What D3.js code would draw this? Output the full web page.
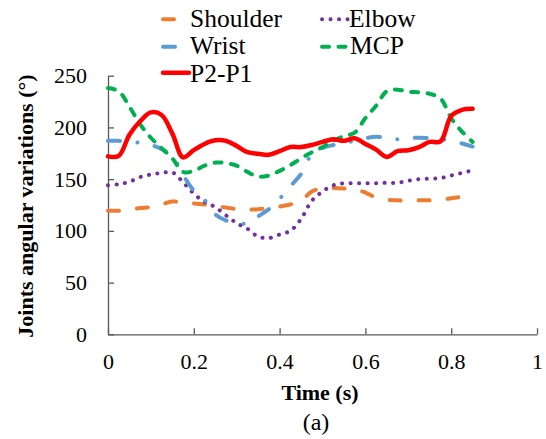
<!DOCTYPE html>
<html>

<head>
    <meta charset="utf-8">
    <title>Joints angular variations</title>
    <script src="https://d3js.org/d3.v7.min.js"></script>
    <style>
        body { margin: 0; background: #fff; }
        text { font-family: "Liberation Serif", "Times New Roman", serif; fill: #000; }
    </style>
</head>

<body>
    <script type="text/javascript">
        // time samples (s), every 0.025 s
        let time = [0, 0.025, 0.05, 0.075, 0.1, 0.125, 0.15, 0.175, 0.2, 0.225, 0.25, 0.275,
            0.3, 0.325, 0.35, 0.375, 0.4, 0.425, 0.45, 0.475, 0.5, 0.525, 0.55, 0.575,
            0.6, 0.625, 0.65, 0.675, 0.7, 0.725, 0.75, 0.775, 0.8, 0.825, 0.85];

        // joint angles (deg)
        let shoulder = [119.5, 119.5, 120.5, 122, 123, 125.5, 128.5, 127, 126.5, 125.5, 124, 122.5,
            121, 120.5, 121, 122, 123.5, 125.5, 129, 138, 141, 141.5, 141, 140,
            137, 132, 130, 129.5, 129, 129.5, 129.5, 130, 131.5, 133, 134];
        let elbow = [144, 145, 147.5, 152, 154.5, 156, 156.5, 147, 136, 128, 123, 115,
            107.5, 102, 94.5, 93, 96.5, 100, 111.5, 129, 138, 144, 146, 146,
            146, 146, 146.5, 146.5, 148.5, 150, 150.5, 151, 153.5, 156, 158.5];
        let wrist = [187, 187, 186.5, 185, 183, 179, 172, 154, 139, 130, 116, 110,
            107, 107.5, 114, 121, 131, 143, 155, 174, 180, 183, 185, 187,
            189.5, 191, 189.5, 188.5, 189.5, 190, 189.5, 188.5, 187, 184.5, 181.5];
        let mcp = [238, 235, 220, 203, 190, 180, 170, 157, 158, 163, 166, 165.5,
            163, 157, 152.5, 153.5, 158, 163.5, 170, 176, 181, 187, 191.5, 195,
            209, 221, 235, 236.5, 234.5, 234, 232.5, 228, 209, 196, 186];
        let p2p1 = [172, 172.5, 193, 206, 214.5, 212, 194, 171, 178, 184, 187.5, 187,
            182, 176, 174.5, 173.5, 177, 181, 181, 183, 186, 188.5, 187, 189.5,
            184, 178.5, 171.5, 177, 178, 181, 186, 186.5, 211, 217, 218];

        let seriesNames = ["Shoulder", "Elbow", "Wrist", "MCP", "P2-P1"];
        let seriesValues = [shoulder, elbow, wrist, mcp, p2p1];

        let xTicks = [0, 0.2, 0.4, 0.6, 0.8, 1];
        let xTickLabels = ["0", "0.2", "0.4", "0.6", "0.8", "1"];
        let yTicks = [0, 50, 100, 150, 200, 250];

        function draw() {
            let width = 546,
                height = 439;

            let styles = {
                "Shoulder": { color: "#ED7D31", w: 4, dash: "11,18" },
                "Elbow": { color: "#7030A0", w: 4, dash: "0.1,8.4" },
                "Wrist": { color: "#5B9BD5", w: 4, dash: "12,17.5,0.1,17.5" },
                "MCP": { color: "#00B050", w: 4, dash: "7,9.5" },
                "P2-P1": { color: "#FF0000", w: 4.5, dash: null }
            };

            let svg = d3.select("body").append("svg")
                .attr("width", width)
                .attr("height", height);

            let x = d3.scaleLinear().domain([0, 1]).range([108, 537]);
            let y = d3.scaleLinear().domain([0, 250]).range([334.3, 75.7]);

            // axes, ticks point inwards
            let xAxis = svg.append("g")
                .attr("transform", "translate(0," + y(0) + ")")
                .call(d3.axisBottom(x)
                    .tickValues(xTicks)
                    .tickFormat((d, i) => xTickLabels[i])
                    .tickSizeInner(-6)
                    .tickSizeOuter(0)
                    .tickPadding(19));

            let yAxis = svg.append("g")
                .attr("transform", "translate(" + x(0) + ",0)")
                .call(d3.axisLeft(y)
                    .tickValues(yTicks)
                    .tickSizeInner(-6)
                    .tickSizeOuter(0)
                    .tickPadding(21));

            [xAxis, yAxis].forEach(g => {
                g.select(".domain").attr("stroke", "#595959").attr("stroke-width", 1.3);
                g.selectAll(".tick line").attr("stroke", "#595959").attr("stroke-width", 1.3);
                g.selectAll(".tick text")
                    .style("font-family", "'Liberation Serif', serif")
                    .style("font-size", "22px")
                    .attr("fill", "#000");
            });

            // lines
            let line = d3.line()
                .x((d, i) => x(time[i]))
                .y(d => y(d))
                .curve(d3.curveCatmullRom.alpha(0.5));

            seriesNames.forEach((name, k) => {
                let s = styles[name];
                svg.append("path")
                    .attr("d", line(seriesValues[k]))
                    .attr("fill", "none")
                    .attr("stroke", s.color)
                    .attr("stroke-width", s.w)
                    .attr("stroke-linecap", "round")
                    .attr("stroke-linejoin", "round")
                    .attr("stroke-dasharray", s.dash);
            });

            // axis titles
            svg.append("text")
                .attr("x", 320)
                .attr("y", 400)
                .attr("text-anchor", "middle")
                .style("font-size", "22px")
                .style("font-weight", "bold")
                .text("Time (s)");

            svg.append("text")
                .attr("transform", "translate(33,206) rotate(-90)")
                .attr("text-anchor", "middle")
                .style("font-size", "22px")
                .style("font-weight", "bold")
                .text("Joints angular variations (°)");

            svg.append("text")
                .attr("x", 316)
                .attr("y", 430)
                .attr("text-anchor", "middle")
                .style("font-size", "24px")
                .text("(a)");

            // legend, two columns
            let legendPos = {
                "Shoulder": [163, 19.3, 190, 27.3],
                "Elbow": [322, 19.3, 349, 27.3],
                "Wrist": [163, 46.7, 190, 54],
                "MCP": [322, 46.7, 350, 54],
                "P2-P1": [163, 72.7, 190, 81.7]
            };
            seriesNames.forEach(name => {
                let s = styles[name], p = legendPos[name];
                svg.append("line")
                    .attr("x1", p[0]).attr("x2", p[0] + 26)
                    .attr("y1", p[1]).attr("y2", p[1])
                    .attr("stroke", s.color)
                    .attr("stroke-width", s.w)
                    .attr("stroke-linecap", "round")
                    .attr("stroke-dasharray", s.dash);
                svg.append("text")
                    .attr("x", p[2])
                    .attr("y", p[3])
                    .style("font-size", "25.5px")
                    .text(name);
            });
        }

        draw();
    </script>
</body>

</html>
